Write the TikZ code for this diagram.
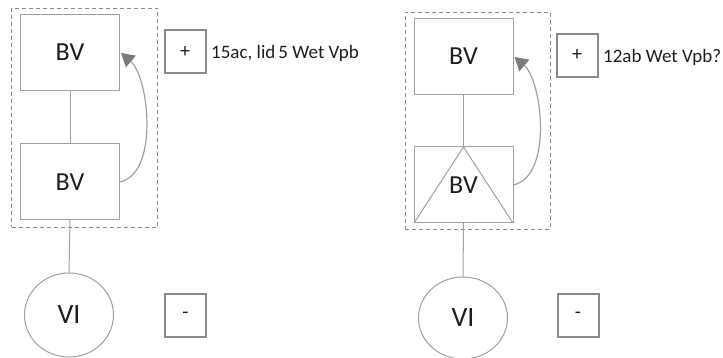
\documentclass[tikz,border=0pt]{standalone}
\usepackage{fontspec}
\setmainfont{Carlito}
\usetikzlibrary{arrows.meta,shapes.geometric}
\definecolor{ln}{HTML}{A0A0A0}
\definecolor{bx}{HTML}{8A8A8A}
\definecolor{ah}{HTML}{7A7A7A}
\definecolor{tx}{HTML}{1E1E1E}
\begin{document}
\begin{tikzpicture}[x=1pt,y=-1pt,
  bvbox/.style={draw=ln,line width=1pt,rectangle,inner sep=0pt,outer sep=0pt,
    minimum width=99pt,minimum height=76pt,text=tx,font=\fontsize{26}{26}\selectfont},
  grp/.style={draw=bx,line width=0.9pt,dashed,dash pattern=on 4pt off 3pt,rectangle,inner sep=0pt,outer sep=0pt},
  sgn/.style={draw=bx,line width=2pt,rectangle,inner sep=0pt,outer sep=0pt,
    minimum width=41pt,minimum height=43pt,text=tx,font=\fontsize{20}{20}\selectfont},
  lbl/.style={anchor=west,inner sep=0pt,text=tx,font=\fontsize{19}{19}\selectfont},
  vi/.style={draw=ln,line width=1pt,ellipse,inner sep=0pt,outer sep=0pt,
    minimum width=89pt,minimum height=84pt,text=tx,font=\fontsize{28}{28}\selectfont},
  conn/.style={draw=ln,line width=1pt},
  back/.style={draw=ln,line width=1.2pt,-{Triangle[length=13pt,width=15pt,color=ah]}}
]
\useasboundingbox (0,0) rectangle (723,358);
% left group
\node[grp,minimum width=146pt,minimum height=219pt] (d1) at (84.5,117.5) {};
\node[bvbox] (t1) at (70,52.5) {BV};
\node[bvbox] (b1) at (70,182) {BV};
\node[sgn] (p1) at (185,52) {+};
\node[lbl] (l1) at (211,53) {15ac, lid\,5 Wet Vpb};
\node[vi] (v1) at (69,315) {VI};
\node[sgn] (m1) at (185.5,315) {-};
\draw[conn] (t1.south) -- (b1.north);
\draw[conn] (b1.south) -- (v1.north);
\draw[back] (b1.east) .. controls +(40,-8) and +(28,24) .. ([shift={(1.5,0.5)}]t1.east);
% right group
\node[grp,minimum width=145pt,minimum height=217pt] (d2) at (477.5,120.5) {};
\node[bvbox] (t2) at (463.5,56.5) {BV};
\node[bvbox] (b2) at (463.5,185) {};
\draw[conn] (b2.south west) -- (b2.north) -- (b2.south east);
\node[text=tx,font=\fontsize{26}{26}\selectfont,inner sep=0pt] (bt2) at (b2.center) {BV};
\node[sgn] (p2) at (577,55.5) {+};
\node[lbl] (l2) at (603,57) {12ab Wet Vpb?};
\node[vi,minimum height=82pt] (v2) at (463,318) {VI};
\node[sgn] (m2) at (578,315.5) {-};
\draw[conn] (t2.south) -- (b2.north);
\draw[conn] (b2.south) -- (v2.north);
\draw[back] (b2.east) .. controls +(40,-8) and +(28,24) .. ([shift={(1.5,0.5)}]t2.east);
\end{tikzpicture}
\end{document}
